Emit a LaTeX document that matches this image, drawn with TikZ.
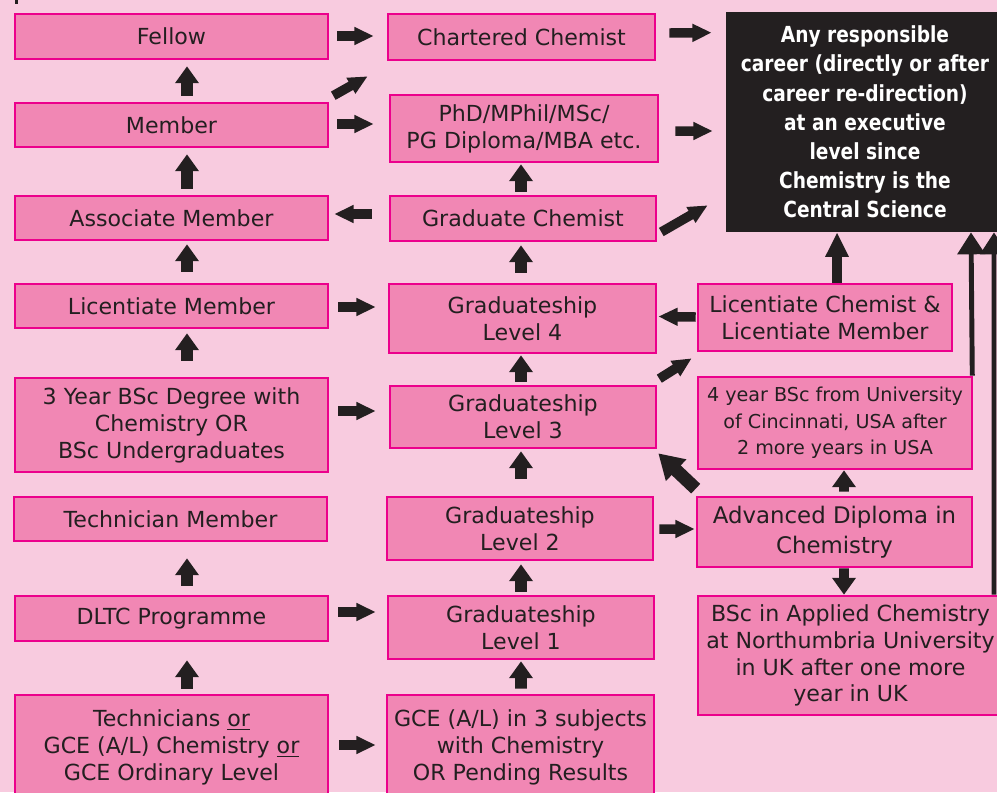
\documentclass[tikz,border=0pt]{standalone}
\usepackage{fontspec}
\setmainfont{DejaVu Sans}
\newfontfamily\careerfont[FakeStretch=0.84]{DejaVu Sans}
\usetikzlibrary{arrows.meta}
\usetikzlibrary{calc}

\definecolor{pagepink}{RGB}{248,203,223}
\definecolor{boxpink}{RGB}{241,135,180}
\definecolor{boxedge}{RGB}{236,0,140}
\definecolor{ink}{RGB}{35,31,32}

\begin{document}
\begin{tikzpicture}[x=0.02cm, y=-0.02cm,
	stage/.style={draw=boxedge, fill=boxpink, line width=1.5pt, inner sep=0pt, align=center, text=ink, font=\fontsize{12.6}{15.3}\selectfont},
	goal/.style={fill=ink, text=white, inner sep=0pt, align=center, font=\careerfont\bfseries\fontsize{12.6}{16.6}\selectfont},
	upflow/.style={draw=ink, line width=6.6pt, -{Triangle[width=13pt, length=9.6pt]}},
	sideflow/.style={draw=ink, line width=5.4pt, -{Triangle[width=9.6pt, length=11pt]}},
	bigflow/.style={draw=ink, line width=7.5pt, -{Triangle[width=16pt, length=14pt]}},
	feed/.style={draw=ink, line width=2.8pt, -{Triangle[width=15.3pt, length=12.5pt]}}]

%\newcommand{\mcol}{522}
\newcommand{\lcol}{171.5}

	\useasboundingbox (0,0) rectangle (997,792);
	\fill[pagepink] (0,0) rectangle (997,792);
	\draw[ink, line width=1.4pt] (16.5,0) -- (16.5,4);

	% left column
	\node[stage, minimum width=6.26cm, minimum height=0.90cm] (fellow) at (\lcol,36.5) {Fellow};
	\node[stage, minimum width=6.26cm, minimum height=0.88cm] (member) at (\lcol,125) {Member};
	\node[stage, minimum width=6.26cm, minimum height=0.88cm] (assoc) at (\lcol,218) {Associate Member};
	\node[stage, minimum width=6.26cm, minimum height=0.88cm] (licmem) at (\lcol,306) {Licentiate Member};
	\node[stage, minimum width=6.26cm, minimum height=1.88cm] (bsc3) at (\lcol,425) {3 Year BSc Degree with\\Chemistry OR\\BSc Undergraduates};
	\node[stage, minimum width=6.26cm, minimum height=0.88cm] (techmem) at (170.5,519) {Technician Member};
	\node[stage, minimum width=6.26cm, minimum height=0.90cm] (dltc) at (\lcol,618.5) {DLTC Programme};
	\node[stage, minimum width=6.26cm, minimum height=2.10cm] (techn) at (\lcol,747.5) {Technicians \underline{or}\\GCE (A/L) Chemistry \underline{or}\\GCE Ordinary Level};

	% middle column
	\node[stage, minimum width=5.34cm, minimum height=0.92cm] (chartered) at (521.5,37) {Chartered Chemist};
	\node[stage, minimum width=5.36cm, minimum height=1.34cm] (phd) at (524,128.5) {PhD/MPhil/MSc/\\PG Diploma/MBA etc.};
	\node[stage, minimum width=5.32cm, minimum height=0.90cm] (gradchem) at (523,218.5) {Graduate Chemist};
	\node[stage, minimum width=5.34cm, minimum height=1.38cm] (gl4) at (522.5,318.5) {Graduateship\\Level 4};
	\node[stage, minimum width=5.32cm, minimum height=1.24cm] (gl3) at (523,417) {Graduateship\\Level 3};
	\node[stage, minimum width=5.32cm, minimum height=1.26cm] (gl2) at (520,528.5) {Graduateship\\Level 2};
	\node[stage, minimum width=5.32cm, minimum height=1.26cm] (gl1) at (521,627.5) {Graduateship\\Level 1};
	\node[stage, minimum width=5.34cm, minimum height=2.10cm] (gce) at (520.5,747.5) {GCE (A/L) in 3 subjects\\with Chemistry\\OR Pending Results};

	% right column
	\node[goal, minimum width=5.56cm, minimum height=4.40cm] (career) at (865,122) {Any responsible\\career (directly or after\\career re-direction)\\at an executive\\level since\\Chemistry is the\\Central Science};
	\node[stage, minimum width=5.08cm, minimum height=1.34cm] (licchem) at (825,317.5) {Licentiate Chemist \&\\Licentiate Member};
	\node[stage, minimum width=5.48cm, minimum height=1.84cm, font=\fontsize{10.9}{15}\selectfont] (bsc4) at (835,423) {4 year BSc from University\\of Cincinnati, USA after\\2 more years in USA};
	\node[stage, minimum width=5.50cm, minimum height=1.40cm, font=\fontsize{13}{17}\selectfont] (advdip) at (834.5,532) {Advanced Diploma in\\Chemistry};
	\node[stage, minimum width=6.10cm, minimum height=2.38cm] (bscuk) at (850.5,655.5) {BSc in Applied Chemistry\\at Northumbria University\\in UK after one more\\year in UK};

	% up the left column
	\draw[upflow] ($(member.north)+(15.5,-6)$) -- ($(fellow.south)+(15.5,6)$);
	\draw[upflow] ($(assoc.north)+(15.5,-6)$) -- ($(member.south)+(15.5,6)$);
	\draw[upflow] ($(licmem.north)+(15.5,-11)$) -- ($(assoc.south)+(15.5,3)$);
	\draw[upflow] ($(bsc3.north)+(15.5,-16)$) -- ($(licmem.south)+(15.5,4)$);
	\draw[upflow] ($(dltc.north)+(15.5,-9)$) -- ($(techmem.south)+(16.5,16)$);
	\draw[upflow] ($(techn.north)+(15.5,-5)$) -- ($(dltc.south)+(15.5,18)$);

	% up the middle column
	\draw[upflow] ($(gradchem.north)+(-2,-3)$) -- ($(phd.south)+(-3,1)$);
	\draw[upflow] ($(gl4.north)+(-1.5,-10)$) -- ($(gradchem.south)+(-2,3)$);
	\draw[upflow] ($(gl3.north)+(-2,-3)$) -- ($(gl4.south)+(-1.5,1)$);
	\draw[upflow] ($(gl2.north)+(1,-17)$) -- ($(gl3.south)+(-2,2)$);
	\draw[upflow] ($(gl1.north)+(0,-3)$) -- ($(gl2.south)+(1,3)$);
	\draw[upflow] ($(gce.north)+(0.5,-5)$) -- ($(gl1.south)+(0,1)$);

	% across
	\draw[sideflow] ($(fellow.east)+(8,-0.5)$) -- ($(chartered.west)+(-13,-1)$);
	\draw[sideflow] ($(member.east)+(8,-1)$) -- ($(phd.west)+(-15,-4.5)$);
	\draw[sideflow] ($(gradchem.west)+(-17,-4.5)$) -- ($(assoc.east)+(5,-4)$);
	\draw[sideflow] ($(licmem.east)+(9,1)$) -- ($(gl4.west)+(-12,-11.5)$);
	\draw[sideflow] ($(bsc3.east)+(9,-14)$) -- ($(gl3.west)+(-13,-6)$);
	\draw[sideflow] ($(dltc.east)+(9,-6.5)$) -- ($(gl1.west)+(-11,-15.5)$);
	\draw[sideflow] ($(techn.east)+(10,-2.5)$) -- ($(gce.west)+(-10,-2.5)$);
	\draw[sideflow] ($(member.north east)+(4,-6)$) -- ($(chartered.south west)+(-19,15)$);

	\draw[sideflow] ($(chartered.east)+(13,-4)$) -- ($(career.north west)+(-14,21)$);
	\draw[sideflow] ($(phd.east)+(16,2.5)$) -- ($(career.west)+(-13,9)$);
	\draw[sideflow] ($(gradchem.east)+(4,13.5)$) -- ($(career.south west)+(-18,-27)$);

	\draw[sideflow] ($(gl2.east)+(5,0.5)$) -- ($(advdip.west)+(-1,-3)$);
	\draw[sideflow] ($(licchem.west)+(-1,-0.5)$) -- ($(gl4.east)+(1,-2)$);
	\draw[sideflow] ($(gl3.north east)+(2,-6)$) -- ($(licchem.south west)+(-5,6)$);
	\draw[bigflow] ($(advdip.north west)+(0,-7)$) -- ($(gl3.south east)+(1,4)$);

	% right column
	\draw[upflow, -{Triangle[width=12.5pt, length=14pt]}, line width=5.6pt] ($(licchem.north)+(12,0)$) -- ($(career.south)+(-28,0)$);
	\draw[upflow, line width=5.6pt] ($(advdip.north)+(9.5,-4)$) -- ($(bsc4.south)+(9,0)$);
	\draw[upflow, line width=5.6pt] ($(advdip.south)+(9.5,0)$) -- ($(bscuk.north)+(-6.5,0)$);
	\draw[feed] ($(bsc4.north east)+(-1,0)$) -- ($(career.south)+(106,0)$);
	\draw[feed] ($(bscuk.north)+(143.5,0)$) -- ($(career.south)+(129,0)$);
  \end{tikzpicture}
\end{document}
